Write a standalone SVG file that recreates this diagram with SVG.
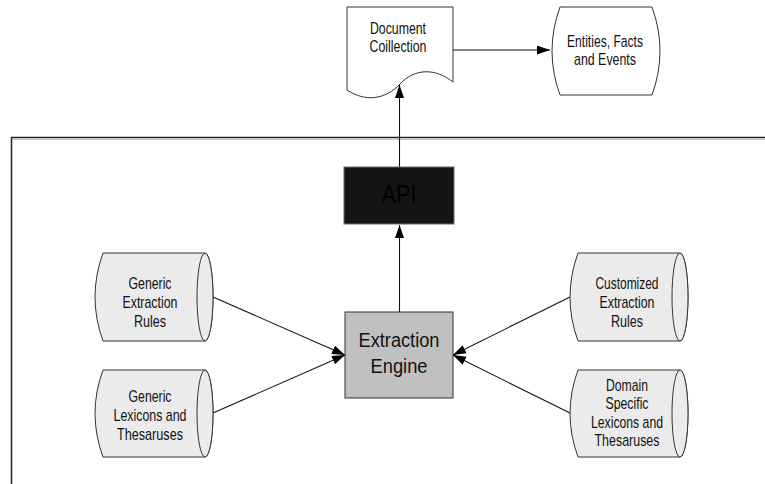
<svg xmlns="http://www.w3.org/2000/svg" width="765" height="484" viewBox="0 0 765 484">
  <style>
    .t{font-family:"Liberation Sans",Arial,sans-serif;fill:#111;text-anchor:middle}
    .s{font-size:17px}
    .b{font-size:20.5px}
    .cyl{fill:#ebebeb;stroke:#333;stroke-width:1}
    .doc{fill:#fff;stroke:#333;stroke-width:1}
    .ln{fill:none;stroke:#111;stroke-width:1.1}
  </style>
  <defs>
    <marker id="arrow" markerUnits="userSpaceOnUse" markerWidth="14" markerHeight="10" refX="13" refY="4.5" orient="auto">
      <path d="M0,0 L13,4.5 L0,9 Z" fill="#000"/>
    </marker>
  </defs>

  <!-- system boundary -->
  <g id="frame">
    <path d="M12.5,139.5 H765" stroke="#c8c8c8" stroke-width="1" fill="none"/>
    <path d="M11.5,484 V137.5 H765" stroke="#222" stroke-width="1.5" fill="none"/>
  </g>

  <!-- connectors -->
  <g id="connectors">
    <line class="ln" x1="399.5" y1="167" x2="399.5" y2="85" marker-end="url(#arrow)"/>
    <line class="ln" x1="453" y1="50" x2="550" y2="50" marker-end="url(#arrow)"/>
    <line class="ln" x1="399.5" y1="312" x2="399.5" y2="225" marker-end="url(#arrow)"/>
    <line class="ln" x1="213" y1="297" x2="345" y2="355" marker-end="url(#arrow)"/>
    <line class="ln" x1="213" y1="413" x2="345" y2="355" marker-end="url(#arrow)"/>
    <line class="ln" x1="570" y1="297" x2="453" y2="355" marker-end="url(#arrow)"/>
    <line class="ln" x1="570" y1="413" x2="453" y2="355" marker-end="url(#arrow)"/>
  </g>

  <g id="document-collection">
    <path class="doc" d="M347,7 H453 V82 C435,68 415,68 400,84 C385,100 365,102 347,90 Z"/>
    <text class="t s" x="398" y="34" textLength="56" lengthAdjust="spacingAndGlyphs">Document</text>
    <text class="t s" x="398" y="52" textLength="57" lengthAdjust="spacingAndGlyphs">Coillection</text>
  </g>

  <g id="entities-facts-events">
    <path class="doc" d="M560,7 H652 Q668,51 652,95 H560 Q544,51 560,7 Z"/>
    <text class="t s" x="605" y="47" textLength="76" lengthAdjust="spacingAndGlyphs">Entities, Facts</text>
    <text class="t s" x="605" y="65" textLength="62" lengthAdjust="spacingAndGlyphs">and Events</text>
  </g>

  <g id="api">
    <rect x="344" y="167" width="110" height="57" fill="#141414" stroke="#6a6a6a" stroke-width="1"/>
    <text class="t" x="399" y="203" font-size="25" fill="#000" style="fill:#000" textLength="35" lengthAdjust="spacingAndGlyphs">API</text>
  </g>

  <g id="extraction-engine">
    <rect x="345" y="312" width="108" height="86" fill="#c0c0c0" stroke="#333" stroke-width="1"/>
    <text class="t b" x="399" y="347" textLength="81" lengthAdjust="spacingAndGlyphs">Extraction</text>
    <text class="t b" x="399" y="373" textLength="57" lengthAdjust="spacingAndGlyphs">Engine</text>
  </g>

  <g id="generic-extraction-rules">
    <path class="cyl" d="M103,253 H205 A8,44 0 0 1 205,341 H103 Q87,297 103,253 Z"/>
    <ellipse class="cyl" cx="205" cy="297" rx="8" ry="44"/>
    <text class="t s" x="150" y="289" textLength="43" lengthAdjust="spacingAndGlyphs">Generic</text>
    <text class="t s" x="150" y="308" textLength="55" lengthAdjust="spacingAndGlyphs">Extraction</text>
    <text class="t s" x="150" y="327" textLength="32" lengthAdjust="spacingAndGlyphs">Rules</text>
  </g>

  <g id="generic-lexicons">
    <path class="cyl" d="M103,370 H205 A8,43.5 0 0 1 205,457 H103 Q87,413.5 103,370 Z"/>
    <ellipse class="cyl" cx="205" cy="413.5" rx="8" ry="43.5"/>
    <text class="t s" x="150" y="402" textLength="43" lengthAdjust="spacingAndGlyphs">Generic</text>
    <text class="t s" x="150" y="421" textLength="73" lengthAdjust="spacingAndGlyphs">Lexicons and</text>
    <text class="t s" x="150" y="440" textLength="66" lengthAdjust="spacingAndGlyphs">Thesaruses</text>
  </g>

  <g id="customized-extraction-rules">
    <path class="cyl" d="M578,253 H680 A8,44 0 0 1 680,341 H578 Q562,297 578,253 Z"/>
    <ellipse class="cyl" cx="680" cy="297" rx="8" ry="44"/>
    <text class="t s" x="627" y="289" textLength="63" lengthAdjust="spacingAndGlyphs">Customized</text>
    <text class="t s" x="627" y="308" textLength="55" lengthAdjust="spacingAndGlyphs">Extraction</text>
    <text class="t s" x="627" y="327" textLength="32" lengthAdjust="spacingAndGlyphs">Rules</text>
  </g>

  <g id="domain-lexicons">
    <path class="cyl" d="M578,370 H680 A8,43.5 0 0 1 680,457 H578 Q562,413.5 578,370 Z"/>
    <ellipse class="cyl" cx="680" cy="413.5" rx="8" ry="43.5"/>
    <text class="t s" x="627" y="391" textLength="42" lengthAdjust="spacingAndGlyphs">Domain</text>
    <text class="t s" x="627" y="409" textLength="43" lengthAdjust="spacingAndGlyphs">Specific</text>
    <text class="t s" x="627" y="428" textLength="72" lengthAdjust="spacingAndGlyphs">Lexicons and</text>
    <text class="t s" x="627" y="446" textLength="65" lengthAdjust="spacingAndGlyphs">Thesaruses</text>
  </g>
</svg>
